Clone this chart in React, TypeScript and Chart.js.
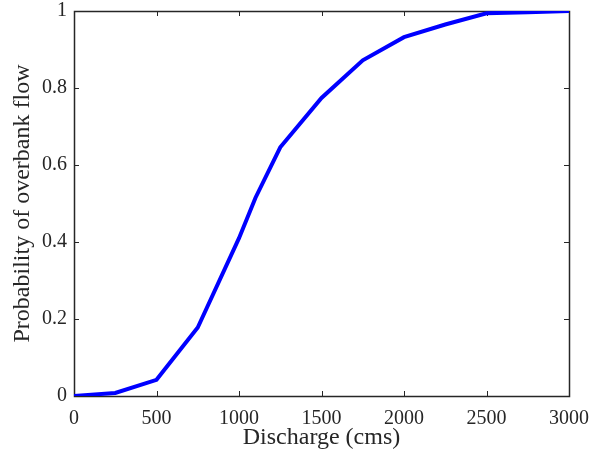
import React, { useEffect, useRef } from "react";
import { Chart, registerables } from "chart.js";

Chart.register(...registerables);

const discharge = [0, 250, 500, 750, 1000, 1100, 1250, 1500, 1750, 2000, 2250, 2500, 2750, 3000];
const probability = [0, 0.008, 0.042, 0.178, 0.41, 0.515, 0.646, 0.774, 0.872, 0.932, 0.965, 0.994, 0.997, 1.0];
const xTicks = [0, 500, 1000, 1500, 2000, 2500, 3000];
const yTicks = [0, 0.2, 0.4, 0.6, 0.8, 1];

const FONT = '"Liberation Serif", "Times New Roman", serif';
const AXIS_COLOR = "#262626";

const framePlugin = {
  id: "matlabFrame",
  beforeDatasetsDraw(chart: any) {
    const { ctx, chartArea } = chart;
    const { left, right, top, bottom } = chartArea;
    const xs = chart.scales.x;
    const ys = chart.scales.y;
    const tl = 5;
    ctx.save();
    ctx.strokeStyle = AXIS_COLOR;
    ctx.lineWidth = 1;
    ctx.beginPath();
    for (const v of xTicks) {
      const px = Math.round(xs.getPixelForValue(v)) + 0.5;
      ctx.moveTo(px, bottom);
      ctx.lineTo(px, bottom - tl);
      ctx.moveTo(px, top);
      ctx.lineTo(px, top + tl);
    }
    for (const v of yTicks) {
      const py = Math.round(ys.getPixelForValue(v)) + 0.5;
      ctx.moveTo(left, py);
      ctx.lineTo(left + tl, py);
      ctx.moveTo(right, py);
      ctx.lineTo(right - tl, py);
    }
    ctx.stroke();
    ctx.lineWidth = 1.5;
    ctx.strokeRect(Math.round(left) + 0.5, Math.round(top) + 0.5, Math.round(right - left), Math.round(bottom - top));
    ctx.restore();
  },
};

export default function App() {
  const ref = useRef<HTMLCanvasElement | null>(null);
  useEffect(() => {
    if (!ref.current) return;
    const chart = new Chart(ref.current, {
      type: "line",
      data: {
        datasets: [
          {
            data: discharge.map((x, i) => ({ x, y: probability[i] })),
            borderColor: "#0000ff",
            borderWidth: 4,
            pointRadius: 0,
            tension: 0,
            fill: false,
          },
        ],
      },
      options: {
        animation: false,
        responsive: false,
        layout: { padding: { top: 11, right: 23, left: 0, bottom: 0 } },
        plugins: { legend: { display: false }, tooltip: { enabled: false } },
        scales: {
          x: {
            type: "linear",
            min: 0,
            max: 3000,
            border: { display: false },
            grid: { display: false, drawTicks: false },
            afterBuildTicks: (s: any) => {
              s.ticks = xTicks.map((v) => ({ value: v }));
            },
            ticks: {
              padding: 11,
              color: AXIS_COLOR,
              font: { family: FONT, size: 20 },
              maxRotation: 0,
              callback: (v: any) => String(v),
            },
            title: {
              display: true,
              text: "Discharge (cms)",
              color: AXIS_COLOR,
              font: { family: FONT, size: 24 },
              padding: { top: 0, bottom: 7 },
            },
            afterFit: (s: any) => {
              s.height = 63;
              s.paddingLeft = 0;
              s.paddingRight = 0;
            },
          },
          y: {
            type: "linear",
            min: 0,
            max: 1,
            border: { display: false },
            grid: { display: false, drawTicks: false },
            afterBuildTicks: (s: any) => {
              s.ticks = yTicks.map((v) => ({ value: v }));
            },
            ticks: {
              padding: 7,
              color: AXIS_COLOR,
              font: { family: FONT, size: 20 },
              callback: (v: any) => String(v),
            },
            title: {
              display: true,
              text: "Probability of overbank flow",
              color: AXIS_COLOR,
              font: { family: FONT, size: 24 },
              padding: { top: 8, bottom: 0 },
            },
            afterFit: (s: any) => {
              s.width = 74;
              s.paddingTop = 0;
              s.paddingBottom = 0;
            },
          },
        },
      },
      plugins: [framePlugin],
    });
    return () => chart.destroy();
  }, []);
  return (
    <div style={{ position: "fixed", left: 0, top: 0, width: 592, height: 459, background: "#fff" }}>
      <canvas ref={ref} width={592} height={459} />
    </div>
  );
}
